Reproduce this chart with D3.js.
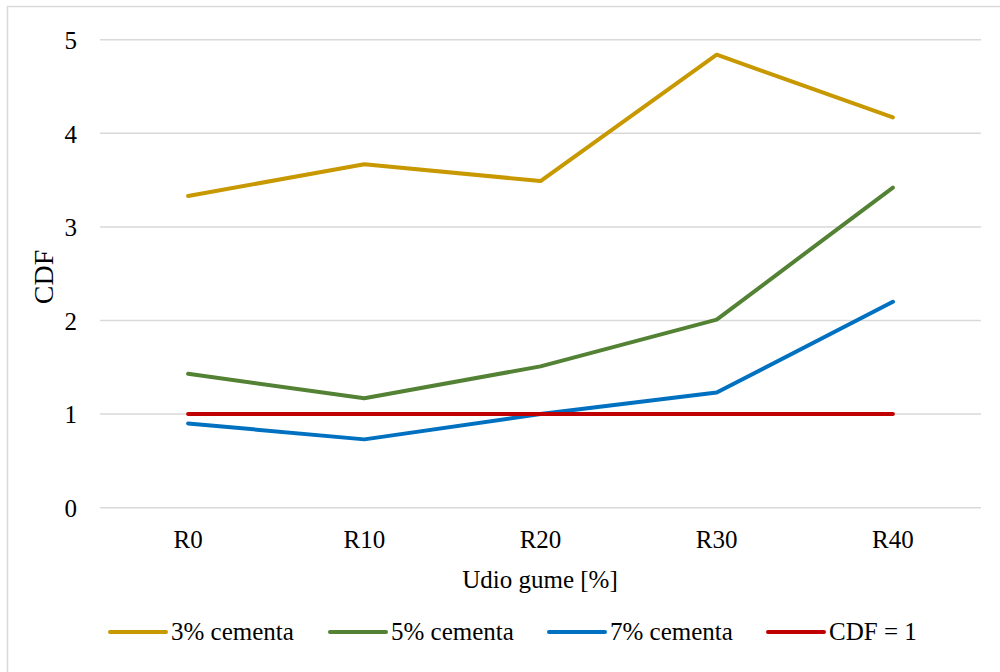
<!DOCTYPE html>
<html>
<head>
<meta charset="utf-8">
<script src="https://cdn.jsdelivr.net/npm/d3@7"></script>
<style>
  body { margin: 0; background: #fff; }
  text { font-family: "Liberation Serif", "Times New Roman", serif; fill: #000; }
</style>
</head>
<body>
<svg id="chart" width="1000" height="672"></svg>
<script>
// chart data
const categories = ["R0", "R10", "R20", "R30", "R40"];
const seriesNames = ["3% cementa", "5% cementa", "7% cementa", "CDF = 1"];
const cement3 = [3.33, 3.67, 3.49, 4.84, 4.17];
const cement5 = [1.43, 1.17, 1.51, 2.01, 3.42];
const cement7 = [0.90, 0.73, 1.00, 1.23, 2.20];
const cdfOne = [1, 1, 1, 1, 1];
const yTicks = [0, 1, 2, 3, 4, 5];

const colors = ["#C89800", "#548235", "#0070C0", "#C00000"];
const allSeries = [cement3, cement5, cement7, cdfOne];

var svg = d3.select("#chart");
const width = +svg.attr("width");
const height = +svg.attr("height");
const fontSize = "25px";

// plot area
const plotLeft = 100, plotRight = 981, plotTop = 39.7, plotBottom = 507.7;

// outer frame (runs off the right and bottom edges, as in the source)
svg.append("rect")
    .attr("x", 7.5).attr("y", 6.5)
    .attr("width", width).attr("height", height)
    .attr("fill", "none")
    .attr("stroke", "#d9d9d9")
    .attr("stroke-width", 1.5);

var xScale = d3.scaleBand()
    .domain(categories)
    .range([plotLeft, plotRight]);

var yScale = d3.scaleLinear()
    .domain([0, 5])
    .range([plotBottom, plotTop]);

// gridlines
svg.append("g")
    .selectAll("line")
    .data(yTicks)
    .join("line")
    .attr("x1", plotLeft).attr("x2", plotRight)
    .attr("y1", d => yScale(d)).attr("y2", d => yScale(d))
    .attr("stroke", "#d9d9d9")
    .attr("stroke-width", 1.5);

// y axis
var leftAxis = d3.axisLeft(yScale).tickValues(yTicks).tickFormat(d3.format("d")).tickSize(0).tickPadding(0);
var yAxisG = svg.append("g")
    .attr("transform", "translate(77,0)")
    .call(leftAxis);
yAxisG.select(".domain").remove();
yAxisG.selectAll("text")
    .style("font-size", fontSize)
    .attr("dy", "0.35em");

// x axis
var bottomAxis = d3.axisBottom(xScale).tickSize(0).tickPadding(23);
var xAxisG = svg.append("g")
    .attr("transform", "translate(0," + plotBottom + ")")
    .call(bottomAxis);
xAxisG.select(".domain").remove();
xAxisG.selectAll("text")
    .style("font-size", fontSize);

// axis titles
svg.append("text")
    .attr("x", 540)
    .attr("y", 588)
    .attr("text-anchor", "middle")
    .style("font-size", fontSize)
    .text("Udio gume [%]");

svg.append("text")
    .attr("transform", "translate(53,277)rotate(-90)")
    .attr("text-anchor", "middle")
    .style("font-size", "28px")
    .text("CDF");

// series lines
var line = d3.line()
    .x((d, i) => xScale(categories[i]) + xScale.bandwidth() / 2)
    .y(d => yScale(d));

allSeries.forEach((s, i) => {
    svg.append("path")
        .datum(s)
        .attr("d", line)
        .attr("fill", "none")
        .attr("stroke", colors[i])
        .attr("stroke-width", 4)
        .attr("stroke-linecap", "round")
        .attr("stroke-linejoin", "round");
});

// legend
const legendX = [110, 330, 549, 768];
const legendY = 632;
seriesNames.forEach((name, i) => {
    var g = svg.append("g").attr("transform", "translate(" + legendX[i] + "," + legendY + ")");
    g.append("line")
        .attr("x1", 0).attr("x2", 56)
        .attr("y1", 0).attr("y2", 0)
        .attr("stroke", colors[i])
        .attr("stroke-width", 4)
        .attr("stroke-linecap", "round");
    g.append("text")
        .attr("x", 61)
        .attr("y", 0)
        .attr("dy", "0.33em")
        .style("font-size", fontSize)
        .text(name);
});
</script>
</body>
</html>
